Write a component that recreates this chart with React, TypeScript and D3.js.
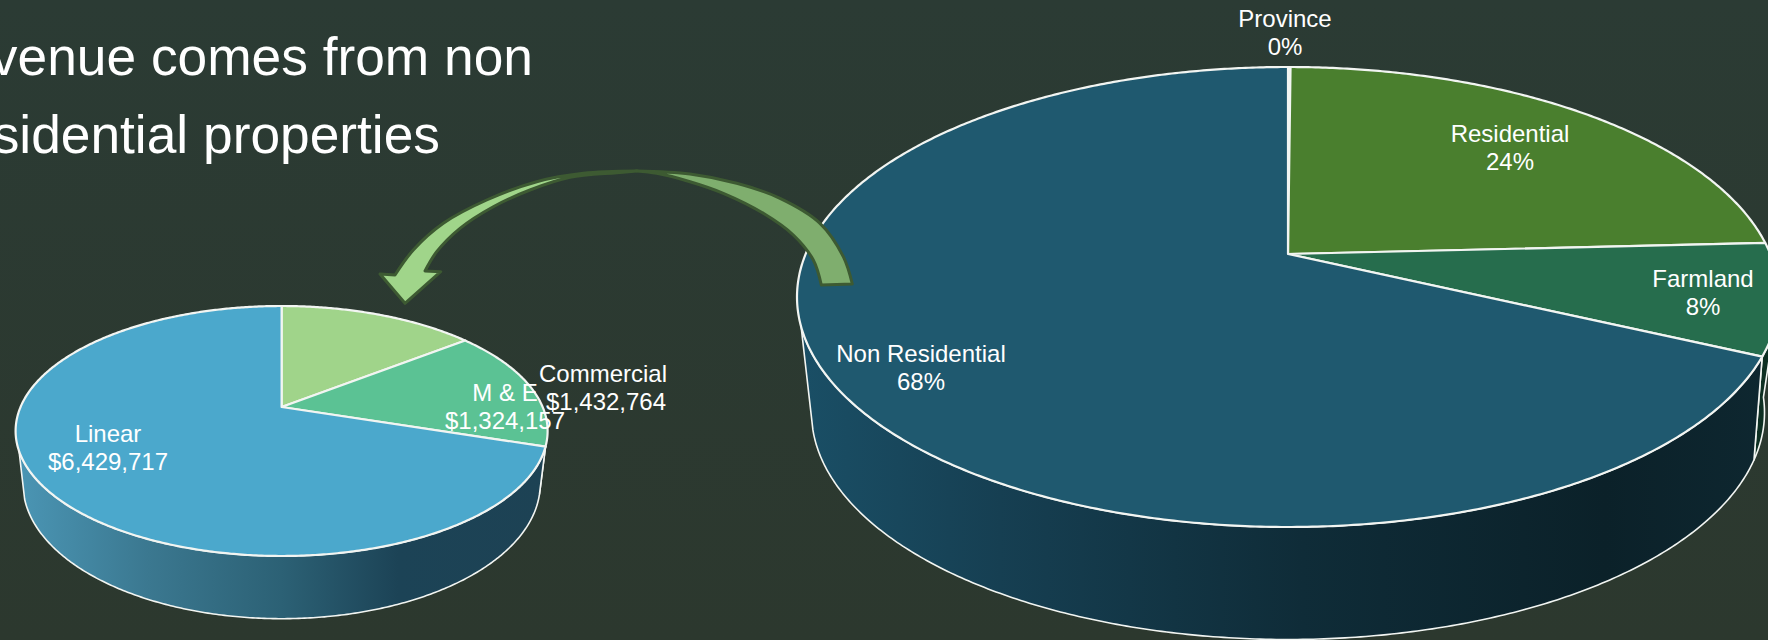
import React from "react";
import * as d3 from "d3";

// Revenue split by property class, in percent
const revenueCategories = ["Province", "Residential", "Farmland", "Non Residential"];
const revenueShares = [0.1, 24.1, 7.8, 68];
const revenueColors = ["#dfe6df", "#4a7f2e", "#266d4d", "#1f596f"];
const revenueWallColors = ["#0d2f22", "#0d2f22", "#0d2f22", "url(#wallLarge)"];
const revenueLabelPos: [number, number][] = [[1285, 27], [1510, 141.5], [1703, 287], [921, 361.5]];

// Non residential breakdown, in dollars
const nonResCategories = ["M & E", "Commercial", "Linear"];
const nonResValues = [1324157, 1432764, 6429717];
const nonResColors = ["#a0d48a", "#5bc294", "#4ba8cc"];
const nonResWallColors = ["#7fae6e", "#3c8f6a", "url(#wallSmall)"];
const nonResLabelPos: [number, number][] = [[505, 400.7], [603, 381.7], [108, 441.7]];
const nonResValueShift = [0, 3, 0];

const WIDTH = 1768;
const HEIGHT = 640;
const deg = Math.PI / 180;

type Ellipse = { cx: number; cy: number; rx: number; ry: number; t: number };
type Pt = [number, number];

// Perspective projection of a disc angle (clockwise from 12 o'clock) on to a drawn ellipse
function project(theta: number, e: Ellipse): Pt {
  const u = Math.sin(theta);
  const v = Math.cos(theta);
  const den = 1 + e.t * v;
  const vp = (v + e.t) / den;
  const up = (u * Math.sqrt(1 - e.t * e.t)) / den;
  return [e.cx + e.rx * up, e.cy - e.ry * vp];
}

function sampleArc(a: number, b: number, e: Ellipse): Pt[] {
  const steps = Math.max(2, Math.ceil(((b - a) / deg) * 2));
  const angle = d3.scaleLinear().domain([0, steps]).range([a, b]);
  return d3.range(steps + 1).map((i) => project(angle(i), e));
}

const linePath = d3.line<Pt>();

function Pie3D(props: {
  values: number[];
  colors: string[];
  wallColors: string[];
  top: Ellipse;
  bottom: Ellipse;
  wallFrom: number;
  wallTo: number;
}) {
  const { values, colors, wallColors, top, bottom, wallFrom, wallTo } = props;
  const arcs = d3.pie<number>().sort(null)(values);
  const centre: Pt = [top.cx, top.cy - top.ry * top.t];
  return (
    <g>
      {arcs.map((s, i) => {
        const a = Math.max(s.startAngle, wallFrom);
        const b = Math.min(s.endAngle, wallTo);
        if (b <= a) return null;
        const pts = [...sampleArc(a, b, top), ...sampleArc(a, b, bottom).reverse()];
        return (
          <path
            key={"wall" + i}
            d={linePath(pts) + "Z"}
            fill={wallColors[i]}
            stroke="#f2f5f2"
            strokeWidth={1.6}
            strokeLinejoin="round"
          />
        );
      })}
      {arcs.map((s, i) => (
        <path
          key={"top" + i}
          d={linePath([centre, ...sampleArc(s.startAngle, s.endAngle, top)]) + "Z"}
          fill={colors[i]}
          stroke="#f2f5f2"
          strokeWidth={2.2}
          strokeLinejoin="round"
        />
      ))}
    </g>
  );
}

function Label(props: { x: number; y: number; lines: string[]; shift?: number }) {
  return (
    <text
      x={props.x}
      y={props.y}
      textAnchor="middle"
      fontFamily="'Liberation Sans', Arial, sans-serif"
      fontSize={24}
      fill="#ffffff"
    >
      {props.lines.map((l, i) => (
        <tspan key={i} x={props.x + (i === 0 ? 0 : props.shift ?? 0)} dy={i === 0 ? 0 : 28.3}>
          {l}
        </tspan>
      ))}
    </text>
  );
}

// Outline of the curved arrow leading from the large pie to the small one
const arrowBackOuter: Pt[] = [[852.3, 284], [843.3, 256.7], [820, 223.3], [780, 198.3], [736.7, 183.3], [690, 174], [636.7, 171]];
const arrowBackInner: Pt[] = [[636.7, 171], [656.7, 173.3], [690, 181.7], [723.3, 193.3], [763.3, 213.3], [793.3, 235], [813.3, 260], [821.3, 285]];
const arrowFrontOuter: Pt[] = [[636.7, 171], [583.3, 173.3], [536.7, 181.7], [486.7, 200], [443.3, 223.3], [413.3, 250], [395, 275]];
const arrowHead: Pt[] = [[395, 275], [380, 274], [405, 303.3], [440.7, 271.7], [425, 271]];
const arrowFrontInner: Pt[] = [[425, 271], [436.7, 251.7], [460, 228.3], [493.3, 206.7], [530, 190], [570, 177.3], [616.7, 172.7], [636.7, 171]];

const smooth = d3.line<Pt>().curve(d3.curveCatmullRom);

export default function App() {
  const totalRevenue = d3.sum(revenueShares);
  const fmtDollars = d3.format("$,");
  const fmtPct = (v: number) => `${Math.round((v / totalRevenue) * 100)}%`;

  const largeTop: Ellipse = { cx: 1288, cy: 297, rx: 491, ry: 230, t: 0.187 };
  const largeBottom: Ellipse = { cx: 1288, cy: 412.5, rx: 476.5, ry: 227, t: 0.238 };
  const smallTop: Ellipse = { cx: 281.6, cy: 431, rx: 266, ry: 125, t: 0.192 };
  const smallBottom: Ellipse = { cx: 281.6, cy: 484, rx: 258.6, ry: 134.7, t: 0.24 };

  const arrowBackPath = smooth(arrowBackOuter)! + "L" + smooth(arrowBackInner)!.slice(1) + "Z";
  const arrowFrontPath =
    smooth(arrowFrontOuter)! +
    "L" +
    arrowHead.map((p) => p.join(",")).join("L") +
    "L" +
    smooth(arrowFrontInner)!.slice(1) +
    "Z";

  return (
    <svg
      width={WIDTH}
      height={HEIGHT}
      viewBox={`0 0 ${WIDTH} ${HEIGHT}`}
      style={{ position: "absolute", left: 0, top: 0, display: "block" }}
    >
      <defs>
        <linearGradient id="bg" x1="0" y1="0" x2="0" y2="1">
          <stop offset="0" stopColor="#2b3b34" />
          <stop offset="1" stopColor="#2c382e" />
        </linearGradient>
        <linearGradient id="wallLarge" gradientUnits="userSpaceOnUse" x1="796" y1="0" x2="1770" y2="0">
          <stop offset="0" stopColor="#1a4f66" />
          <stop offset="0.21" stopColor="#163f52" />
          <stop offset="0.52" stopColor="#0f2c38" />
          <stop offset="0.83" stopColor="#0b2129" />
          <stop offset="1" stopColor="#0e2730" />
        </linearGradient>
        <linearGradient id="wallSmall" gradientUnits="userSpaceOnUse" x1="15" y1="0" x2="547" y2="0">
          <stop offset="0" stopColor="#4b96b5" />
          <stop offset="0.25" stopColor="#3b7890" />
          <stop offset="0.5" stopColor="#2c6175" />
          <stop offset="0.72" stopColor="#1c4356" />
          <stop offset="1" stopColor="#1d4254" />
        </linearGradient>
      </defs>
      <rect width={WIDTH} height={HEIGHT} fill="url(#bg)" />

      <g fontFamily="'Liberation Sans', Arial, sans-serif" fontSize={53.3} fill="#ffffff" textAnchor="end">
        <text x={533} y={75}>revenue comes from non</text>
        <text x={440} y={153}>residential properties</text>
      </g>

      <Pie3D
        values={revenueShares}
        colors={revenueColors}
        wallColors={revenueWallColors}
        top={largeTop}
        bottom={largeBottom}
        wallFrom={100 * deg}
        wallTo={252 * deg}
      />
      <Pie3D
        values={nonResValues}
        colors={nonResColors}
        wallColors={nonResWallColors}
        top={smallTop}
        bottom={smallBottom}
        wallFrom={108 * deg}
        wallTo={250 * deg}
      />

      <path d={arrowBackPath} fill="#7fae6e" stroke="#3d5a32" strokeWidth={3} strokeLinejoin="round" />
      <path d={arrowFrontPath} fill="#a0d58a" stroke="#3d5a32" strokeWidth={3} strokeLinejoin="round" />

      {revenueCategories.map((c, i) => (
        <Label key={c} x={revenueLabelPos[i][0]} y={revenueLabelPos[i][1]} lines={[c, fmtPct(revenueShares[i])]} />
      ))}
      {nonResCategories.map((c, i) => (
        <Label
          key={c}
          x={nonResLabelPos[i][0]}
          y={nonResLabelPos[i][1]}
          lines={[c, fmtDollars(nonResValues[i])]}
          shift={nonResValueShift[i]}
        />
      ))}
    </svg>
  );
}
